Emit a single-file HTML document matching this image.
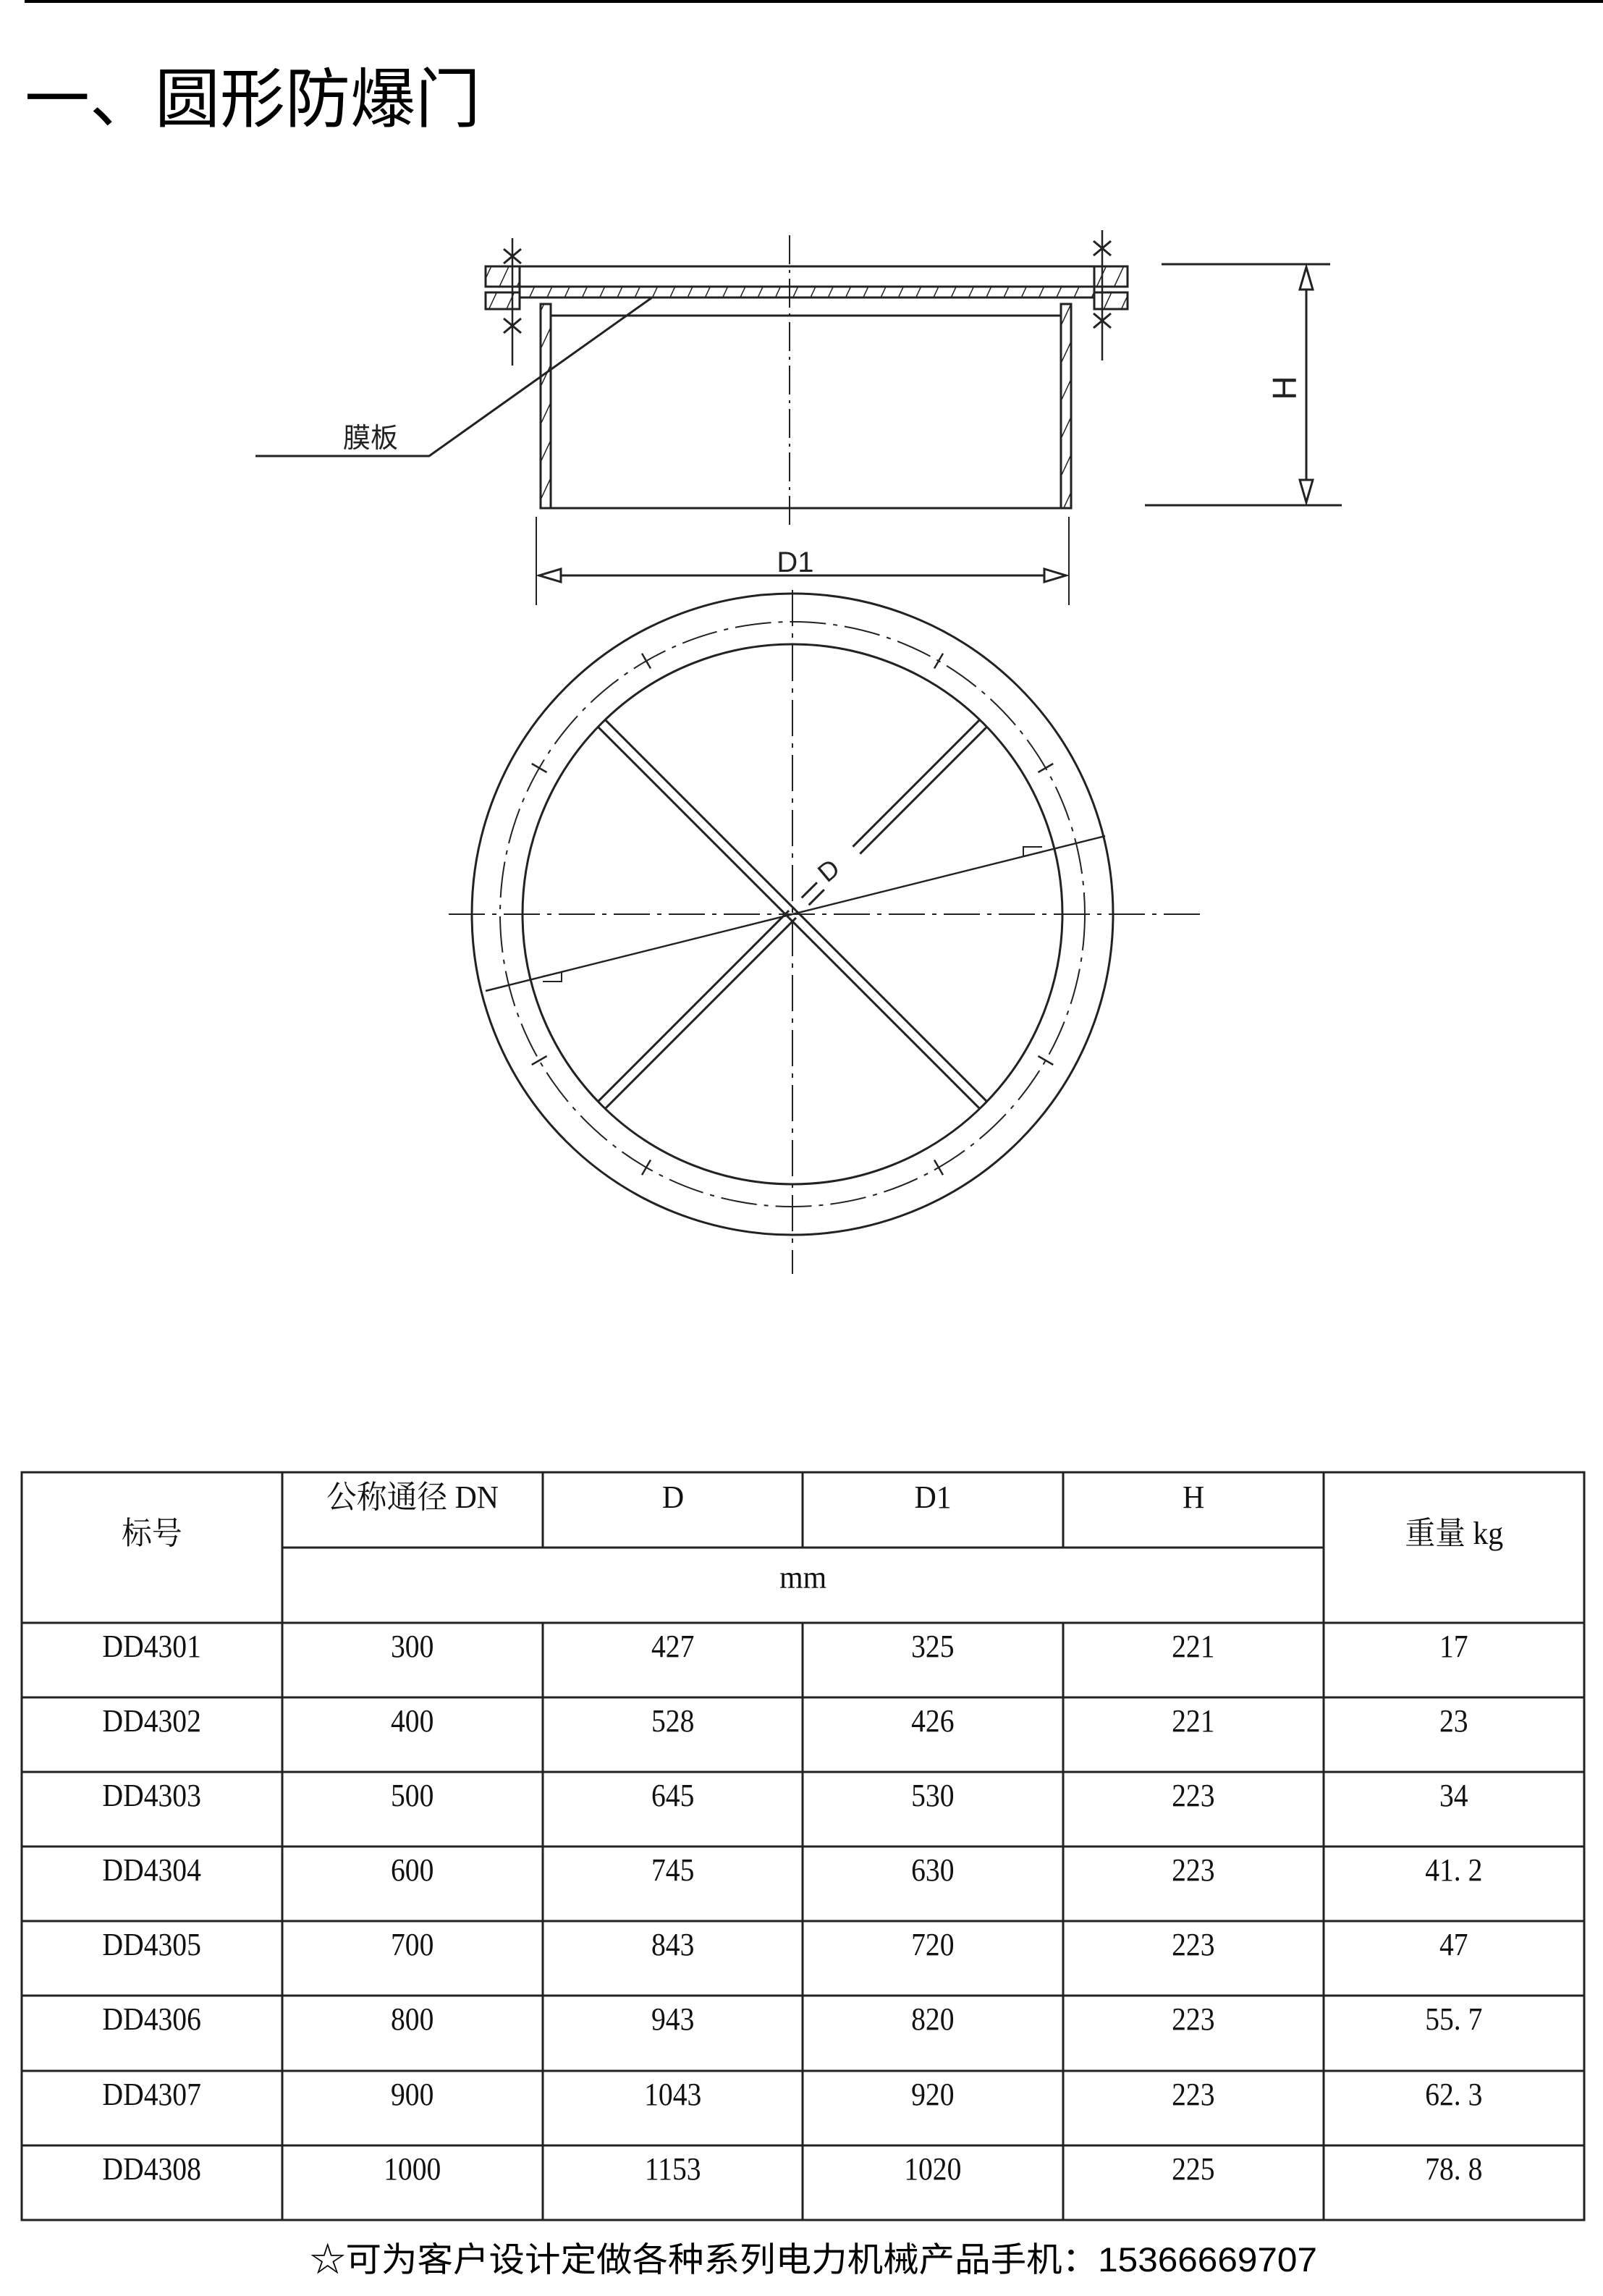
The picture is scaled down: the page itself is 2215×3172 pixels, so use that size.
<!DOCTYPE html>
<html><head><meta charset="utf-8"><style>
html,body{margin:0;padding:0;background:#fff;}
svg{display:block;}
.t{font-family:"Liberation Serif","Noto Serif CJK SC",serif;font-size:44px;fill:#111;}
</style></head><body>
<svg width="2215" height="3172" viewBox="0 0 2215 3172" xmlns="http://www.w3.org/2000/svg">
<defs>
<pattern id="hatch" width="22" height="22" patternUnits="userSpaceOnUse" patternTransform="rotate(25)">
<line x1="0" y1="0" x2="0" y2="22" stroke="#222" stroke-width="3"/>
</pattern>
</defs>
<rect x="34" y="0" width="2181" height="4" fill="#000"/>
<text x="34" y="168" font-family="'Liberation Sans','Noto Sans CJK SC',sans-serif" font-size="90" fill="#000">一、圆形防爆门</text>

<g stroke="#222" stroke-width="3" fill="none">
<rect x="671" y="368" width="887" height="28" fill="#fff"/>
<rect x="718" y="396" width="794" height="15" fill="url(#hatch)"/>
<rect x="671" y="404" width="47" height="23" fill="url(#hatch)"/>
<rect x="1512" y="404" width="46" height="23" fill="url(#hatch)"/>
<rect x="671" y="368" width="47" height="28" fill="url(#hatch)"/>
<rect x="1512" y="368" width="46" height="28" fill="url(#hatch)"/>
<line x1="761" y1="436" x2="1466" y2="436"/>
<rect x="747" y="420" width="14" height="282" fill="url(#hatch)"/>
<rect x="1466" y="420" width="14" height="282" fill="url(#hatch)"/>
<line x1="747" y1="702" x2="1480" y2="702"/>
<line x1="1091" y1="325" x2="1091" y2="725" stroke-dasharray="40 8 4 8" stroke-width="2"/>
<line x1="708" y1="329" x2="708" y2="505" stroke-width="2.5"/>
<path d="M696 344 L720 364 M720 344 L696 364 M696 440 L720 460 M720 440 L696 460"/>
<line x1="1523" y1="318" x2="1523" y2="498" stroke-width="2.5"/>
<path d="M1511 333 L1535 353 M1535 333 L1511 353 M1511 433 L1535 453 M1535 433 L1511 453"/>
<polyline points="901,411 593,630 353,630" stroke-width="3"/>
<line x1="741" y1="714" x2="741" y2="836" stroke-width="2"/>
<line x1="1477" y1="714" x2="1477" y2="836" stroke-width="2"/>
<line x1="745" y1="795" x2="1473" y2="795"/>
<path d="M745 795 L775 786 L775 804 Z M1473 795 L1443 786 L1443 804 Z" fill="#fff"/>
<line x1="1605" y1="365" x2="1838" y2="365"/>
<line x1="1582" y1="698" x2="1854" y2="698"/>
<line x1="1805" y1="369" x2="1805" y2="694"/>
<path d="M1805 369 L1796 400 L1814 400 Z M1805 694 L1796 663 L1814 663 Z" fill="#fff"/>
</g>
<text x="512" y="618" font-family="'Liberation Sans','Noto Sans CJK SC',sans-serif" font-size="38" fill="#222" text-anchor="middle">膜板</text>
<text x="1099" y="790" font-family="'Liberation Sans',sans-serif" font-size="40" fill="#222" text-anchor="middle">D1</text>
<text transform="translate(1791,536) rotate(-90)" font-family="'Liberation Sans',sans-serif" font-size="46" fill="#222" text-anchor="middle">H</text>

<g stroke="#222" stroke-width="3" fill="none">
<circle cx="1095" cy="1263" r="443"/>
<circle cx="1095" cy="1263" r="373"/>
<circle cx="1095" cy="1263" r="404" stroke-width="2" stroke-dasharray="50 10 6 10"/>
<line x1="1095" y1="815" x2="1095" y2="1760" stroke-width="2" stroke-dasharray="50 10 6 10"/>
<line x1="620" y1="1263" x2="1665" y2="1263" stroke-width="2" stroke-dasharray="50 10 6 10"/>
<g transform="translate(1095,1263)">
<g transform="rotate(-135)"><line x1="0" y1="-7" x2="373" y2="-7"/><line x1="0" y1="7" x2="373" y2="7"/></g>
<g transform="rotate(45)"><line x1="0" y1="-7" x2="373" y2="-7"/><line x1="0" y1="7" x2="373" y2="7"/></g>
<g transform="rotate(135)"><line x1="0" y1="-7" x2="373" y2="-7"/><line x1="0" y1="7" x2="373" y2="7"/></g>
<g transform="rotate(-45)"><line x1="125" y1="-7" x2="373" y2="-7"/><line x1="125" y1="7" x2="373" y2="7"/><line x1="25" y1="-7" x2="55" y2="-7"/><line x1="25" y1="7" x2="55" y2="7"/></g>
<g stroke-width="2.5">
<g transform="rotate(-60)"><line x1="392" y1="0" x2="416" y2="0"/></g>
<g transform="rotate(-120)"><line x1="392" y1="0" x2="416" y2="0"/></g>
<g transform="rotate(-30)"><line x1="392" y1="0" x2="416" y2="0"/></g>
<g transform="rotate(-150)"><line x1="392" y1="0" x2="416" y2="0"/></g>
<g transform="rotate(30)"><line x1="392" y1="0" x2="416" y2="0"/></g>
<g transform="rotate(150)"><line x1="392" y1="0" x2="416" y2="0"/></g>
<g transform="rotate(60)"><line x1="392" y1="0" x2="416" y2="0"/></g>
<g transform="rotate(120)"><line x1="392" y1="0" x2="416" y2="0"/></g>
</g>
</g>
<line x1="671" y1="1369" x2="1527" y2="1155" stroke-width="2.5"/>
<path d="M750 1349 L776 1343 L776 1356 L750 1356 M1440 1177 L1414 1183 L1414 1170 L1440 1170" stroke-width="2"/>
</g>
<text transform="translate(1153,1212) rotate(-40)" font-family="'Liberation Sans',sans-serif" font-size="36" fill="#222" text-anchor="middle">D</text>

<g stroke="#222" stroke-width="3" fill="none">
<rect x="30" y="2034" width="2159" height="1033"/>
<line x1="390" y1="2034" x2="390" y2="3067"/>
<line x1="1829" y1="2034" x2="1829" y2="3067"/>
<line x1="750" y1="2034" x2="750" y2="2138"/>
<line x1="1109" y1="2034" x2="1109" y2="2138"/>
<line x1="1469" y1="2034" x2="1469" y2="2138"/>
<line x1="750" y1="2242" x2="750" y2="3067"/>
<line x1="1109" y1="2242" x2="1109" y2="3067"/>
<line x1="1469" y1="2242" x2="1469" y2="3067"/>
<line x1="390" y1="2138" x2="1829" y2="2138"/>
<line x1="30" y1="2242" x2="2189" y2="2242"/>
<line x1="30" y1="2345" x2="2189" y2="2345"/>
<line x1="30" y1="2448" x2="2189" y2="2448"/>
<line x1="30" y1="2551" x2="2189" y2="2551"/>
<line x1="30" y1="2654" x2="2189" y2="2654"/>
<line x1="30" y1="2757" x2="2189" y2="2757"/>
<line x1="30" y1="2861" x2="2189" y2="2861"/>
<line x1="30" y1="2964" x2="2189" y2="2964"/>
</g>
<g class="t" text-anchor="middle" transform="scale(0.95,1)">
<text x="221" y="2133">标号</text>
<text x="600" y="2083">公称通径 DN</text>
<text x="979" y="2083">D</text>
<text x="1357" y="2083">D1</text>
<text x="1736" y="2083">H</text>
<text x="2115" y="2133">重量 kg</text>
<text x="1168" y="2194">mm</text>
</g>
<g class="t" text-anchor="middle" transform="scale(0.9,1)">
<text x="233" y="2289">DD4301</text><text x="633" y="2289">300</text><text x="1033" y="2289">427</text><text x="1432" y="2289">325</text><text x="1832" y="2289">221</text><text x="2232" y="2289">17</text>
<text x="233" y="2392">DD4302</text><text x="633" y="2392">400</text><text x="1033" y="2392">528</text><text x="1432" y="2392">426</text><text x="1832" y="2392">221</text><text x="2232" y="2392">23</text>
<text x="233" y="2495">DD4303</text><text x="633" y="2495">500</text><text x="1033" y="2495">645</text><text x="1432" y="2495">530</text><text x="1832" y="2495">223</text><text x="2232" y="2495">34</text>
<text x="233" y="2598">DD4304</text><text x="633" y="2598">600</text><text x="1033" y="2598">745</text><text x="1432" y="2598">630</text><text x="1832" y="2598">223</text><text x="2232" y="2598">41. 2</text>
<text x="233" y="2701">DD4305</text><text x="633" y="2701">700</text><text x="1033" y="2701">843</text><text x="1432" y="2701">720</text><text x="1832" y="2701">223</text><text x="2232" y="2701">47</text>
<text x="233" y="2804">DD4306</text><text x="633" y="2804">800</text><text x="1033" y="2804">943</text><text x="1432" y="2804">820</text><text x="1832" y="2804">223</text><text x="2232" y="2804">55. 7</text>
<text x="233" y="2908">DD4307</text><text x="633" y="2908">900</text><text x="1033" y="2908">1043</text><text x="1432" y="2908">920</text><text x="1832" y="2908">223</text><text x="2232" y="2908">62. 3</text>
<text x="233" y="3011">DD4308</text><text x="633" y="3011">1000</text><text x="1033" y="3011">1153</text><text x="1432" y="3011">1020</text><text x="1832" y="3011">225</text><text x="2232" y="3011">78. 8</text>
</g>
<text x="1124" y="3138" font-family="'Liberation Sans','Noto Sans CJK SC',sans-serif" font-size="47" fill="#000" text-anchor="middle" textLength="1392" lengthAdjust="spacingAndGlyphs">☆可为客户设计定做各种系列电力机械产品手机：15366669707</text>
</svg>
</body></html>
